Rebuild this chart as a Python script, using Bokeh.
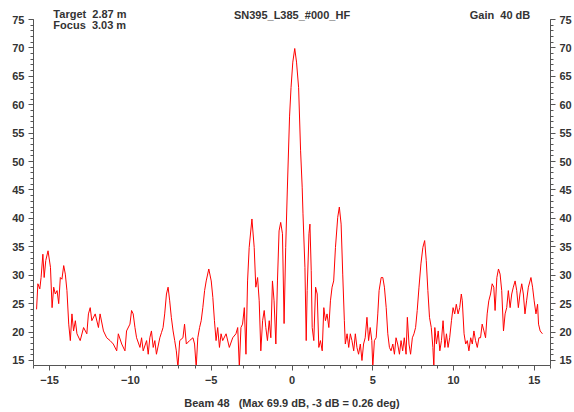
from bokeh.plotting import figure
from bokeh.models import LinearAxis, SingleIntervalTicker, Label, Range1d
from bokeh.embed import file_html
from bokeh.resources import INLINE

# Beam angle (deg) and level (dB)
angle = [-15.81, -15.73, -15.61, -15.53, -15.42, -15.34, -15.24, -15.10, -14.95, -14.85,
         -14.75, -14.65, -14.54, -14.44, -14.34, -14.24, -14.13, -14.03, -13.93, -13.82,
         -13.72, -13.62, -13.52, -13.41, -13.31, -13.11, -12.90, -12.70, -12.60, -12.49,
         -12.39, -12.18, -11.98, -11.88, -11.67, -11.47, -11.26, -11.06, -10.85, -10.75,
         -10.54, -10.34, -10.24, -10.03, -9.93, -9.83, -9.72, -9.62, -9.41, -9.31,
         -9.21, -9.00, -8.90, -8.80, -8.70, -8.59, -8.49, -8.39, -8.18, -8.08,
         -7.98, -7.88, -7.77, -7.67, -7.57, -7.47, -7.36, -7.26, -7.16, -7.06,
         -6.95, -6.75, -6.65, -6.54, -6.34, -6.13, -6.03, -5.93, -5.83, -5.72,
         -5.62, -5.52, -5.41, -5.31, -5.15, -5.00, -4.90, -4.80, -4.70, -4.60,
         -4.49, -4.39, -4.29, -4.08, -3.88, -3.67, -3.47, -3.36, -3.26, -3.16,
         -3.06, -2.95, -2.85, -2.75, -2.65, -2.48, -2.34, -2.24, -2.13, -2.03,
         -1.93, -1.82, -1.72, -1.62, -1.52, -1.41, -1.31, -1.21, -1.11, -1.00,
         -0.90, -0.80, -0.70, -0.59, -0.49, -0.39, -0.29, -0.15, -0.06, 0.05,
         0.17, 0.28, 0.41, 0.53, 0.63, 0.68, 0.80, 0.88, 0.94, 1.05,
         1.11, 1.19, 1.25, 1.35, 1.46, 1.56, 1.66, 1.76, 1.87, 1.97,
         2.07, 2.17, 2.28, 2.38, 2.48, 2.58, 2.69, 2.83, 2.93, 3.04,
         3.14, 3.24, 3.30, 3.41, 3.51, 3.61, 3.71, 3.82, 3.92, 4.02,
         4.12, 4.23, 4.33, 4.43, 4.53, 4.64, 4.74, 4.84, 4.94, 5.00,
         5.10, 5.21, 5.31, 5.39, 5.52, 5.62, 5.72, 5.83, 5.93, 6.03,
         6.13, 6.24, 6.34, 6.44, 6.54, 6.65, 6.75, 6.85, 6.95, 7.06,
         7.14, 7.24, 7.34, 7.45, 7.55, 7.65, 7.75, 7.86, 7.98, 8.10,
         8.21, 8.31, 8.41, 8.51, 8.62, 8.72, 8.78, 8.84, 8.94, 9.05,
         9.15, 9.25, 9.35, 9.46, 9.56, 9.66, 9.76, 9.87, 9.97, 10.07,
         10.17, 10.28, 10.38, 10.48, 10.54, 10.65, 10.75, 10.85, 10.95, 11.06,
         11.16, 11.26, 11.36, 11.47, 11.57, 11.67, 11.77, 11.88, 11.98, 12.08,
         12.18, 12.29, 12.39, 12.49, 12.57, 12.68, 12.78, 12.88, 12.98, 13.09,
         13.19, 13.29, 13.39, 13.50, 13.60, 13.70, 13.81, 13.91, 14.01, 14.11,
         14.22, 14.32, 14.42, 14.52, 14.63, 14.79, 14.89, 14.99, 15.10, 15.20,
         15.26, 15.36, 15.50]

level_db = [24.0, 28.5, 27.6, 29.6, 33.7, 29.6, 32.6, 34.3, 31.4, 24.3,
            27.9, 26.7, 27.3, 25.0, 29.6, 29.3, 31.7, 30.2, 27.3, 21.4,
            18.5, 23.2, 20.2, 22.0, 19.7, 18.5, 20.8, 19.7, 23.2, 24.3,
            22.0, 23.2, 20.8, 23.2, 20.2, 19.0, 18.5, 17.9, 16.7, 19.7,
            17.9, 16.7, 20.2, 21.4, 23.8, 23.2, 20.8, 19.0, 17.3, 19.0,
            16.7, 18.5, 16.1, 19.0, 20.2, 17.3, 18.5, 16.1, 19.0, 19.9,
            20.8, 23.2, 26.7, 27.9, 25.5, 22.6, 20.2, 18.5, 16.7, 13.8,
            18.5, 19.0, 21.4, 17.9, 18.5, 19.0, 17.9, 13.8, 19.0, 20.8,
            22.0, 24.3, 27.3, 29.0, 31.1, 29.0, 26.1, 22.0, 18.5, 20.8,
            17.3, 19.7, 18.5, 19.7, 17.3, 19.0, 19.7, 20.8, 13.8, 20.8,
            21.4, 24.3, 16.1, 29.0, 34.9, 39.9, 34.9, 27.9, 29.6, 25.5,
            16.7, 22.0, 23.8, 20.8, 18.5, 22.0, 19.0, 29.0, 25.5, 17.9,
            29.0, 37.8, 39.3, 37.3, 21.5, 34.9, 45.0, 58.0, 63.0, 67.5,
            69.9, 67.5, 63.0, 52.0, 45.5, 40.8, 31.4, 18.5, 27.3, 37.3,
            39.0, 30.8, 20.8, 18.5, 27.9, 26.7, 17.3, 18.5, 16.7, 24.3,
            22.0, 23.2, 20.8, 25.5, 27.9, 29.0, 34.9, 40.2, 42.0, 39.0,
            30.2, 22.0, 17.9, 19.7, 17.3, 19.7, 18.5, 16.7, 19.7, 17.3,
            16.1, 17.9, 15.0, 17.9, 19.0, 22.6, 18.5, 20.8, 18.5, 13.8,
            18.5, 19.0, 23.2, 27.3, 29.6, 29.6, 27.9, 24.3, 19.7, 17.3,
            16.7, 17.9, 16.1, 19.0, 17.9, 16.1, 18.5, 16.7, 19.0, 16.1,
            22.6, 17.9, 16.1, 19.0, 19.7, 20.8, 23.8, 27.9, 32.0, 34.9,
            36.1, 32.6, 27.3, 22.6, 20.8, 17.3, 13.8, 20.8, 17.9, 20.2,
            16.7, 18.5, 22.0, 17.3, 19.7, 17.3, 19.0, 22.0, 24.3, 23.2,
            24.9, 23.2, 24.3, 26.7, 25.5, 19.7, 17.9, 18.5, 16.7, 19.0,
            17.9, 20.2, 18.5, 17.3, 19.0, 19.0, 21.4, 20.2, 19.0, 23.2,
            25.5, 26.7, 28.5, 27.9, 23.8, 29.6, 31.1, 30.2, 27.3, 20.2,
            23.2, 24.3, 27.3, 24.3, 26.7, 27.9, 29.0, 27.3, 24.3, 26.7,
            28.5, 26.7, 23.2, 25.5, 27.9, 29.6, 27.9, 25.5, 23.2, 24.9,
            21.4, 20.2, 19.7]

x_ticks = [-15, -10, -5, 0, 5, 10, 15]
y_ticks = [15, 20, 25, 30, 35, 40, 45, 50, 55, 60, 65, 70, 75]

FONT = "Liberation Sans"
TXT = "#333333"
AX = "#555555"
NB = "\u00a0"

Y_MIN, Y_MAX = 14.12, 75.0
PX_PER_DB = 346.0 / (Y_MAX - Y_MIN)
Y_TOP = Y_MAX + 19.0 / PX_PER_DB  # frame reaches the top of the canvas

p = figure(width=574, height=412, output_backend="svg", toolbar_location=None,
           x_range=Range1d(-16, 16), y_range=Range1d(Y_MIN, Y_TOP),
           min_border_left=33, min_border_right=21, min_border_top=0, min_border_bottom=47,
           background_fill_color="white", border_fill_color="white")
p.outline_line_color = None
p.grid.visible = False

p.line(angle, level_db, line_color="#ff0000", line_width=1)


def style_axis(ax):
    ax.ticker = SingleIntervalTicker(interval=5, num_minor_ticks=5)
    ax.axis_line_color = AX
    ax.major_tick_line_color = AX
    ax.minor_tick_line_color = AX
    ax.major_tick_in = 0
    ax.minor_tick_in = 0
    ax.major_tick_out = 5
    ax.minor_tick_out = 3
    ax.major_label_text_font = FONT
    ax.major_label_text_font_size = "11px"
    ax.major_label_text_font_style = "bold"
    ax.major_label_text_color = TXT
    ax.major_label_standoff = 4


style_axis(p.xaxis[0])
style_axis(p.yaxis[0])
p.yaxis[0].bounds = (Y_MIN, Y_MAX)
p.xaxis[0].major_label_standoff = 5
p.xaxis[0].axis_label = "Beam 48" + NB * 3 + "(Max 69.9 dB, -3 dB = 0.26 deg)"
p.xaxis[0].axis_label_text_font = FONT
p.xaxis[0].axis_label_text_font_size = "11px"
p.xaxis[0].axis_label_text_font_style = "bold"
p.xaxis[0].axis_label_text_color = TXT
p.xaxis[0].axis_label_standoff = 10

right = LinearAxis()
style_axis(right)
right.bounds = (Y_MIN, Y_MAX)
p.add_layout(right, "right")


def ypix(py):
    return Y_MAX - (py - 19.0) / PX_PER_DB


def lab(x, py, t, align="left"):
    p.add_layout(Label(x=x, y=ypix(py), text=t, text_font=FONT, text_font_size="11px",
                       text_font_style="bold", text_color=TXT, text_align=align,
                       text_baseline="middle"))


lab(-14.77, 13, "Target" + NB * 2 + "2.87 m")
lab(-14.77, 24, "Focus" + NB * 2 + "3.03 m")
lab(0.0, 14, "SN395_L385_#000_HF", "center")
lab(11.0, 14, "Gain" + NB * 2 + "40 dB")

open("out.html", "w").write(file_html(p, INLINE))
